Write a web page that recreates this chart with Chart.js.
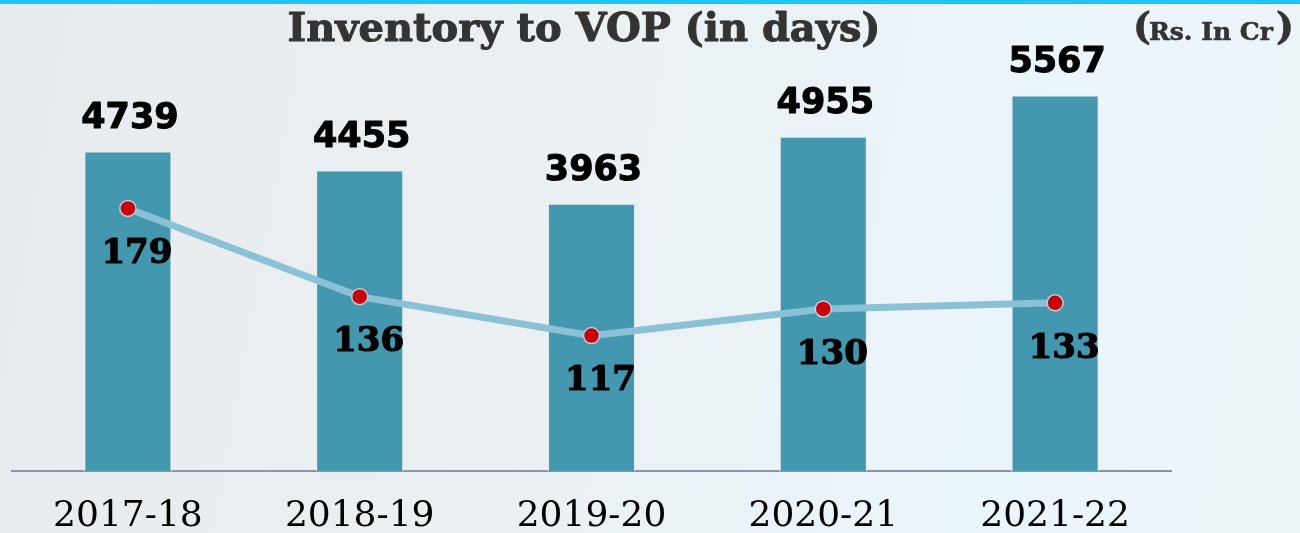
<!DOCTYPE html>
<html>
<head>
<meta charset="utf-8">
<script src="https://cdn.jsdelivr.net/npm/chart.js@4.4.1/dist/chart.umd.min.js"></script>
<style>
    html, body { margin: 0; padding: 0; }
    body {
        width: 1300px; height: 533px; overflow: hidden;
        background: linear-gradient(100deg, #e8ebed 0%, #ebf0f3 45%, #eaf5fb 75%, #edf4f8 100%);
        position: relative;
    }
    #topline { position: absolute; left: 0; top: 0; width: 1300px; height: 4px; background: #1ec5f7; }
    #wrap { position: absolute; left: 0; top: 0; width: 1300px; height: 533px; }
</style>
</head>
<body>
<div id="topline"></div>
<div id="wrap"><canvas id="invChart" width="1300" height="533"></canvas></div>
<script>
// Данные графика
const years = ['2017-18', '2018-19', '2019-20', '2020-21', '2021-22'];
const inventoryValues = [4739, 4455, 3963, 4955, 5567];
const vopDays = [179, 136, 117, 130, 133];

const titleText = 'Inventory to VOP (in days)';
const unitText = 'Rs. In Cr';

// Жирный текст с обводкой (шрифт в оригинале тяжелее)
function heavyText(ctx, text, x, y, w) {
    ctx.lineWidth = w;
    ctx.strokeStyle = ctx.fillStyle;
    ctx.lineJoin = 'round';
    ctx.strokeText(text, x, y);
    ctx.fillText(text, x, y);
}

// Подписи значений и заголовки
const labelsPlugin = {
    id: 'labels',
    afterDatasetsDraw(chart) {
        const ctx = chart.ctx;
        ctx.save();

        // значения над столбцами
        ctx.fillStyle = '#000';
        ctx.font = 'bold 35px "DejaVu Sans"';
        ctx.textAlign = 'center';
        ctx.textBaseline = 'middle';
        chart.getDatasetMeta(1).data.forEach((bar, i) => {
            heavyText(ctx, String(inventoryValues[i]), bar.x + 2, bar.y - 32, 1);
        });

        // значения под точками
        ctx.font = 'bold 34px "DejaVu Serif"';
        chart.getDatasetMeta(0).data.forEach((pt, i) => {
            heavyText(ctx, String(vopDays[i]), pt.x + 9, pt.y + 46, 1.2);
        });

        // заголовок
        ctx.fillStyle = '#333';
        ctx.font = 'bold 40px "DejaVu Serif"';
        heavyText(ctx, titleText, 584, 31, 1);

        // единицы
        ctx.textAlign = 'left';
        ctx.font = 'bold 25px "DejaVu Serif"';
        const w = ctx.measureText(unitText).width;
        const x0 = 1149;
        heavyText(ctx, unitText, x0, 33, 0.6);
        ctx.font = 'bold 38px "DejaVu Serif"';
        heavyText(ctx, '(', x0 - 16, 29, 0.6);
        heavyText(ctx, ')', x0 + w + 3, 29, 0.6);
        ctx.restore();
    }
};

new Chart(document.getElementById('invChart'), {
    data: {
        labels: years,
        datasets: [{
            type: 'line',
            data: vopDays,
            yAxisID: 'yDays',
            borderColor: '#8bc1d6',
            borderWidth: 7,
            pointRadius: 8,
            pointBackgroundColor: '#c8000a',
            pointBorderColor: '#c9ccd0',
            pointBorderWidth: 1.5,
            tension: 0,
            order: 0
        }, {
            type: 'bar',
            data: inventoryValues,
            yAxisID: 'yVal',
            backgroundColor: '#4398b0',
            borderColor: '#e6eef2',
            borderWidth: 1.5,
            categoryPercentage: 1,
            barPercentage: 0.38,
            order: 1
        }]
    },
    options: {
        responsive: false,
        animation: false,
        layout: { padding: { left: 12, right: 129, top: 32, bottom: 0 } },
        plugins: {
            legend: { display: false },
            tooltip: { enabled: false }
        },
        scales: {
            x: {
                grid: { display: false, drawTicks: false },
                border: { color: '#8a93ad', width: 2 },
                ticks: {
                    color: '#000',
                    padding: 24,
                    font: { family: 'DejaVu Serif', size: 36 }
                },
                afterFit(scale) { scale.height = 62; }
            },
            yVal: {
                display: false,
                min: 0,
                max: 6500
            },
            yDays: {
                display: false,
                position: 'right',
                min: 51,
                max: 265
            }
        }
    },
    plugins: [labelsPlugin]
});
</script>
</body>
</html>
